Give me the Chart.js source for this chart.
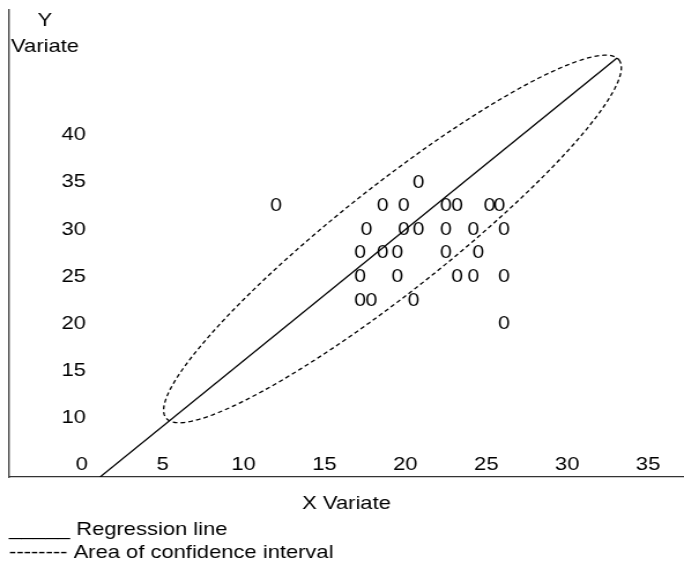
<!DOCTYPE html>
<html><head><meta charset="utf-8">
<script src="https://cdn.jsdelivr.net/npm/chart.js@4.4.0/dist/chart.umd.min.js"></script>
<style>html,body{margin:0;padding:0;background:#fff;overflow:hidden}canvas{display:block}</style>
</head><body>
<canvas id="c" width="592" height="561" style="width:684px;height:561px"></canvas>
<script>
// ---- data ----
const xTicks = [0, 5, 10, 15, 20, 25, 30, 35];
const yTicks = [10, 15, 20, 25, 30, 35, 40];
const obsX = [20.8,
  12.0, 18.6, 19.9, 22.5, 23.2, 25.2, 25.8,
  17.6, 19.9, 20.8, 22.5, 24.2, 26.1,
  17.2, 18.6, 19.5, 22.5, 24.5,
  17.2, 19.5, 23.2, 24.2, 26.1,
  17.2, 17.9, 20.5,
  26.1];
const obsY = [35,
  32.5, 32.5, 32.5, 32.5, 32.5, 32.5, 32.5,
  30, 30, 30, 30, 30, 30,
  27.5, 27.5, 27.5, 27.5, 27.5,
  25, 25, 25, 25, 25,
  22.5, 22.5, 22.5,
  20];
const regressionX = [1.13, 33.08];
const regressionY = [3.75, 48.16];
const ellipseCenter = [19.2, 28.98];
const ellipseMajor = [14.0, 18.98];
const ellipseMinor = [2.03, -4.41];
const xTitle = 'X Variate';
const yTitle = ['Y', 'Variate'];
const legendLines = ['_____ Regression line', '-------- Area of confidence interval'];

// ---- build ----
const S = 684 / 592; // horizontal stretch of canvas
const FONT = "'Liberation Sans', Arial, sans-serif";
Chart.defaults.color = '#000';
Chart.defaults.font.family = FONT;
Chart.defaults.font.size = 19;

const ellipsePts = [];
const N = 180;
for (let i = 0; i <= N; i++) {
  const t = 2 * Math.PI * i / N;
  ellipsePts.push({
    x: ellipseCenter[0] + ellipseMajor[0] * Math.cos(t) + ellipseMinor[0] * Math.sin(t),
    y: ellipseCenter[1] + ellipseMajor[1] * Math.cos(t) + ellipseMinor[1] * Math.sin(t)
  });
}
const regPts = regressionX.map((x, i) => ({x, y: regressionY[i]}));
const obsPts = obsX.map((x, i) => ({x, y: obsY[i]}));

const glyphPlugin = {
  id: 'glyphs',
  afterDatasetsDraw(chart) {
    const ctx = chart.ctx;
    const meta = chart.getDatasetMeta(2);
    ctx.save();
    ctx.fillStyle = '#000';
    ctx.font = "17px Lato, 'Open Sans', sans-serif";
    ctx.textAlign = 'center';
    ctx.textBaseline = 'middle';
    meta.data.forEach(el => ctx.fillText('0', el.x, el.y));
    ctx.restore();
  }
};
const yTitlePlugin = {
  id: 'ytitle',
  afterDraw(chart) {
    const ctx = chart.ctx;
    const x = chart.chartArea.left + (45 - 9) / S;
    ctx.save();
    ctx.fillStyle = '#000';
    ctx.font = '19px ' + FONT;
    ctx.textAlign = 'center';
    ctx.textBaseline = 'middle';
    ctx.fillText(yTitle[0], x, 21);
    ctx.fillText(yTitle[1], x, 47);
    ctx.restore();
  }
};

new Chart(document.getElementById('c'), {
  type: 'scatter',
  data: {
    datasets: [
      {label: 'Regression line', data: regPts, showLine: true, borderColor: '#000', borderWidth: 1.3, pointRadius: 0, fill: false},
      {label: 'Area of confidence interval', data: ellipsePts, showLine: true, borderColor: '#000', borderWidth: 1.3, borderDash: [4, 2.8], pointRadius: 0, fill: false, tension: 0},
      {label: 'Observations', data: obsPts, showLine: false, pointRadius: 0, pointHoverRadius: 0}
    ]
  },
  options: {
    responsive: false,
    animation: false,
    devicePixelRatio: 1,
    events: [],
    layout: {padding: {top: 10, left: 7.8, right: 0, bottom: -2.9}},
    plugins: {
      legend: {display: false},
      tooltip: {enabled: false},
      title: {
        display: true, position: 'bottom', align: 'start',
        text: legendLines, color: '#000',
        font: {size: 19, weight: 'normal', family: FONT, lineHeight: 1.2},
        padding: {top: 3.4, bottom: 0}
      }
    },
    scales: {
      x: {
        type: 'linear', position: 'bottom', min: -4.5, max: 37.22,
        grid: {display: false, drawTicks: false},
        border: {display: true, color: '#333', width: 1.3},
        ticks: {mirror: true, padding: 0.5, autoSkip: false, maxRotation: 0, minRotation: 0, color: '#000', font: {size: 19}},
        title: {display: true, text: xTitle, color: '#000', font: {size: 19}, padding: {top: 14.1, bottom: 0}},
        afterBuildTicks: s => { s.ticks = xTicks.map(v => ({value: v})); },
        afterFit: s => { s.paddingLeft = 0; s.paddingRight = 0; }
      },
      y: {
        type: 'linear', position: 'left', min: 3.745, max: 53.25,
        grid: {display: false, drawTicks: false},
        border: {display: true, color: '#444', width: 1.4},
        ticks: {mirror: true, crossAlign: 'far', padding: 45.5, autoSkip: false, color: '#000', font: {size: 19}},
        afterBuildTicks: s => { s.ticks = yTicks.map(v => ({value: v})); },
        afterFit: s => { s.width = 0; s.paddingTop = 0; s.paddingBottom = 0; }
      }
    }
  },
  plugins: [glyphPlugin, yTitlePlugin]
});
</script>
</body></html>
